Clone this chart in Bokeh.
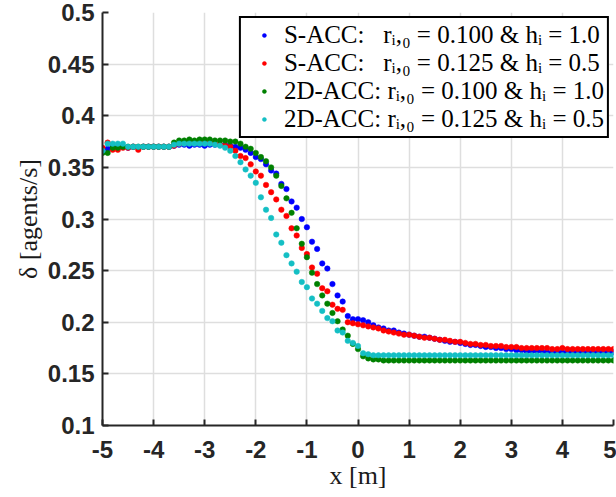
from bokeh.plotting import figure
from bokeh.models import Range1d, FixedTicker, CustomJSTickFormatter, Legend, LegendItem
from bokeh.embed import file_html
from bokeh.resources import INLINE

x_pos = [-5.0, -4.9, -4.8, -4.7, -4.6, -4.5, -4.4, -4.3, -4.2, -4.1,
         -4.0, -3.9, -3.8, -3.7, -3.6, -3.5, -3.4, -3.3, -3.2, -3.1,
         -3.0, -2.9, -2.8, -2.7, -2.6, -2.5, -2.4, -2.3, -2.2, -2.1,
         -2.0, -1.9, -1.8, -1.7, -1.6, -1.5, -1.4, -1.3, -1.2, -1.1,
         -1.0, -0.9, -0.8, -0.7, -0.6, -0.5, -0.4, -0.3, -0.2, -0.1,
         0.0, 0.1, 0.2, 0.3, 0.4, 0.5, 0.6, 0.7, 0.8, 0.9,
         1.0, 1.1, 1.2, 1.3, 1.4, 1.5, 1.6, 1.7, 1.8, 1.9,
         2.0, 2.1, 2.2, 2.3, 2.4, 2.5, 2.6, 2.7, 2.8, 2.9,
         3.0, 3.1, 3.2, 3.3, 3.4, 3.5, 3.6, 3.7, 3.8, 3.9,
         4.0, 4.1, 4.2, 4.3, 4.4, 4.5, 4.6, 4.7, 4.8, 4.9,
         5.0]

sacc_r100_h10 = [0.368, 0.368, 0.370, 0.369, 0.370, 0.369, 0.370, 0.369, 0.370, 0.370,
                 0.370, 0.370, 0.370, 0.370, 0.371, 0.372, 0.372, 0.371, 0.372, 0.372,
                 0.371, 0.372, 0.372, 0.372, 0.372, 0.371, 0.370, 0.369, 0.367, 0.364,
                 0.360, 0.358, 0.353, 0.347, 0.344, 0.334, 0.329, 0.317, 0.311, 0.300,
                 0.292, 0.278, 0.271, 0.257, 0.252, 0.237, 0.226, 0.220, 0.206, 0.203,
                 0.203, 0.202, 0.200, 0.197, 0.195, 0.194, 0.192, 0.192, 0.190, 0.189,
                 0.188, 0.187, 0.186, 0.186, 0.185, 0.184, 0.183, 0.182, 0.181, 0.181,
                 0.180, 0.179, 0.178, 0.178, 0.177, 0.176, 0.176, 0.175, 0.175, 0.174,
                 0.174, 0.173, 0.173, 0.172, 0.172, 0.172, 0.172, 0.171, 0.171, 0.171,
                 0.171, 0.171, 0.171, 0.171, 0.171, 0.171, 0.171, 0.171, 0.171, 0.171,
                 0.171]

sacc_r125_h05 = [0.369, 0.374, 0.367, 0.367, 0.369, 0.369, 0.370, 0.367, 0.370, 0.370,
                 0.370, 0.370, 0.370, 0.370, 0.371, 0.373, 0.374, 0.374, 0.374, 0.374,
                 0.374, 0.374, 0.373, 0.372, 0.371, 0.370, 0.366, 0.361, 0.359, 0.353,
                 0.346, 0.342, 0.333, 0.326, 0.319, 0.309, 0.303, 0.291, 0.284, 0.272,
                 0.266, 0.253, 0.247, 0.233, 0.230, 0.217, 0.213, 0.212, 0.200, 0.199,
                 0.198, 0.197, 0.196, 0.195, 0.194, 0.192, 0.191, 0.190, 0.189, 0.188,
                 0.188, 0.187, 0.186, 0.185, 0.185, 0.184, 0.183, 0.183, 0.182, 0.181,
                 0.181, 0.180, 0.179, 0.179, 0.178, 0.178, 0.177, 0.177, 0.177, 0.176,
                 0.176, 0.176, 0.175, 0.175, 0.175, 0.175, 0.175, 0.175, 0.174, 0.174,
                 0.175, 0.174, 0.174, 0.174, 0.174, 0.174, 0.174, 0.174, 0.174, 0.174,
                 0.174]

acc2d_r100_h10 = [0.364, 0.364, 0.369, 0.369, 0.370, 0.370, 0.370, 0.370, 0.370, 0.370,
                  0.370, 0.370, 0.370, 0.370, 0.374, 0.376, 0.376, 0.377, 0.376, 0.377,
                  0.377, 0.377, 0.376, 0.376, 0.376, 0.375, 0.375, 0.373, 0.370, 0.368,
                  0.364, 0.360, 0.356, 0.350, 0.342, 0.332, 0.320, 0.306, 0.291, 0.276,
                  0.263, 0.248, 0.237, 0.226, 0.218, 0.209, 0.201, 0.193, 0.187, 0.179,
                  0.174, 0.167, 0.165, 0.164, 0.164, 0.163, 0.163, 0.163, 0.163, 0.163,
                  0.163, 0.163, 0.163, 0.163, 0.163, 0.163, 0.163, 0.163, 0.163, 0.163,
                  0.163, 0.163, 0.163, 0.163, 0.163, 0.163, 0.163, 0.163, 0.163, 0.163,
                  0.163, 0.163, 0.163, 0.163, 0.163, 0.163, 0.163, 0.163, 0.163, 0.163,
                  0.163, 0.163, 0.163, 0.163, 0.163, 0.163, 0.163, 0.163, 0.163, 0.163,
                  0.163]

acc2d_r125_h05 = [0.366, 0.373, 0.373, 0.373, 0.373, 0.370, 0.370, 0.370, 0.370, 0.370,
                  0.370, 0.370, 0.370, 0.370, 0.372, 0.373, 0.373, 0.373, 0.373, 0.373,
                  0.373, 0.373, 0.372, 0.371, 0.369, 0.366, 0.361, 0.355, 0.348, 0.342,
                  0.335, 0.321, 0.309, 0.301, 0.285, 0.277, 0.265, 0.257, 0.249, 0.239,
                  0.234, 0.223, 0.218, 0.211, 0.204, 0.201, 0.192, 0.190, 0.182, 0.180,
                  0.177, 0.170, 0.169, 0.168, 0.168, 0.168, 0.168, 0.168, 0.168, 0.168,
                  0.168, 0.168, 0.168, 0.168, 0.168, 0.168, 0.168, 0.168, 0.168, 0.168,
                  0.168, 0.168, 0.168, 0.168, 0.168, 0.168, 0.168, 0.168, 0.168, 0.168,
                  0.168, 0.168, 0.168, 0.168, 0.168, 0.168, 0.168, 0.168, 0.168, 0.168,
                  0.168, 0.168, 0.168, 0.168, 0.168, 0.168, 0.168, 0.168, 0.168, 0.168,
                  0.168]

series_labels = ["S-ACC:   r\u1d62,\u2080 = 0.100 & h\u1d62 = 1.0",
                 "S-ACC:   r\u1d62,\u2080 = 0.125 & h\u1d62 = 0.5",
                 "2D-ACC: r\u1d62,\u2080 = 0.100 & h\u1d62 = 1.0",
                 "2D-ACC: r\u1d62,\u2080 = 0.125 & h\u1d62 = 0.5"]
series_colors = ["#0000ff", "#ff0000", "#008000", "#14bfc4"]

x_ticks = [-5, -4, -3, -2, -1, 0, 1, 2, 3, 4, 5]
y_ticks = [0.1, 0.15, 0.2, 0.25, 0.3, 0.35, 0.4, 0.45, 0.5]

p = figure(width=616, height=497, output_backend="svg", toolbar_location=None,
           x_range=Range1d(-5, 5), y_range=Range1d(0.1, 0.5),
           min_border_left=102, min_border_right=3, min_border_top=12, min_border_bottom=72)
p.outline_line_color = None
p.background_fill_color = "white"
p.border_fill_color = "white"

renderers = []
for vals, col in zip([sacc_r100_h10, sacc_r125_h05, acc2d_r100_h10, acc2d_r125_h05], series_colors):
    r = p.scatter(x_pos, vals, size=5.5, fill_color=col, line_color=col, line_width=0.5)
    renderers.append(r)

fmt = CustomJSTickFormatter(code="return String(Math.round(tick*100)/100);")
p.xaxis.ticker = FixedTicker(ticks=x_ticks)
p.yaxis.ticker = FixedTicker(ticks=y_ticks)
for ax in (p.xaxis, p.yaxis):
    ax.formatter = fmt
    ax.axis_line_width = 2
    ax.axis_line_color = "#262626"
    ax.major_tick_line_width = 2
    ax.major_tick_line_color = "#262626"
    ax.major_tick_in = 6
    ax.major_tick_out = 0
    ax.minor_tick_line_color = None
    ax.major_label_text_font = "Liberation Sans"
    ax.major_label_text_font_style = "bold"
    ax.major_label_text_font_size = "24px"
    ax.major_label_text_color = "#262626"
    ax.axis_label_text_font = "Liberation Serif"
    ax.axis_label_text_font_style = "normal"
    ax.axis_label_text_font_size = "26px"
    ax.axis_label_text_color = "#1a1a1a"

p.xaxis.major_label_standoff = 15
p.yaxis.major_label_standoff = 8
p.xaxis.axis_label = "x [m]"
p.yaxis.axis_label = "\u03b4 [agents/s]"
p.xaxis.axis_label_standoff = 0
p.yaxis.axis_label_standoff = 2

for g in (p.xgrid, p.ygrid):
    g.grid_line_color = "#dedede"
    g.grid_line_width = 1.5

legend = Legend(items=[LegendItem(label=lab, renderers=[r]) for lab, r in zip(series_labels, renderers)],
                location="top_right")
legend.margin = 4
legend.padding = 3
legend.spacing = 0
legend.border_line_color = "black"
legend.border_line_width = 2
legend.border_line_alpha = 1
legend.background_fill_color = "white"
legend.background_fill_alpha = 1
legend.label_text_font = "Liberation Serif"
legend.label_text_font_size = "25px"
legend.label_text_color = "black"
legend.label_height = 27
legend.glyph_height = 10
legend.glyph_width = 40
legend.label_standoff = 0
p.add_layout(legend)

open("out.html", "w").write(file_html(p, INLINE))
